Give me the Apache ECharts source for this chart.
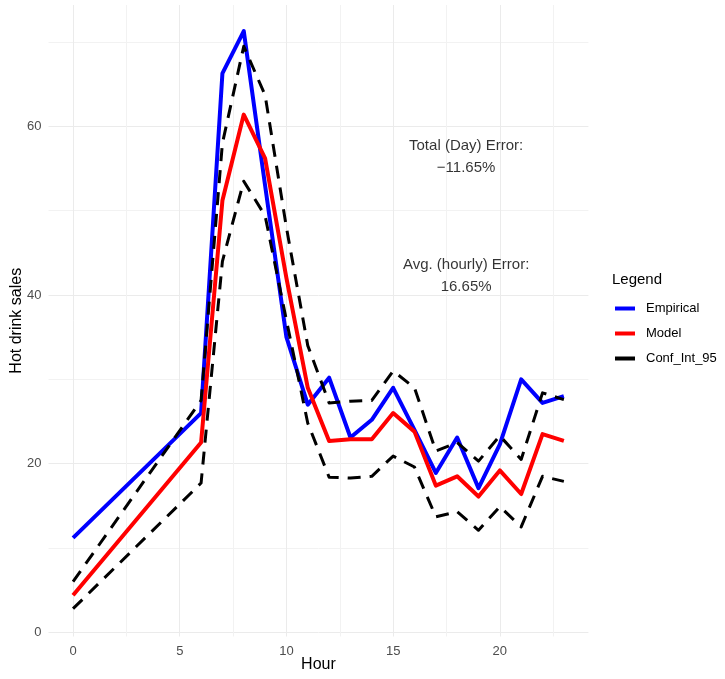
<!DOCTYPE html>
<html>
<head>
<meta charset="utf-8">
<script src="https://cdn.jsdelivr.net/npm/echarts@6/dist/echarts.min.js"></script>
<style>
  html, body { margin: 0; padding: 0; background: #fff; }
  #hotDrinks { width: 725px; height: 679px; }
</style>
</head>
<body>
<div id="hotDrinks"></div>
<script>
// hours 1-5 have no observations, the lines jump straight from 0 to 6
const hours = [0, 6, 7, 8, 9, 10, 11, 12, 13, 14, 15, 16, 17, 18, 19, 20, 21, 22, 23];
const empirical = [11.2, 26.0, 66.3, 71.3, 53.0, 35.0, 27.0, 30.2, 23.1, 25.2, 29.0, 24.0, 18.9, 23.1, 17.1, 22.3, 30.0, 27.2, 28.0];
const model = [4.4, 22.5, 51.2, 61.4, 56.2, 42.0, 29.0, 22.7, 22.9, 22.9, 26.0, 23.8, 17.4, 18.5, 16.1, 19.2, 16.4, 23.5, 22.7];
const confUpper = [6.0, 27.5, 58.0, 69.5, 63.7, 48.0, 34.0, 27.2, 27.4, 27.5, 31.0, 29.0, 21.5, 22.5, 20.3, 23.3, 20.5, 28.4, 27.6];
const confLower = [2.8, 17.7, 44.0, 53.5, 49.4, 37.0, 24.8, 18.4, 18.3, 18.5, 20.9, 19.6, 13.7, 14.3, 12.1, 14.9, 12.5, 18.5, 17.9];

const xMajor = [0, 5, 10, 15, 20];
const xMinor = [2.5, 7.5, 12.5, 17.5, 22.5];
const yMajor = [0, 20, 40, 60];
const yMinor = [10, 30, 50, 70];

const notes = [
  { hour: 18.42, value: 56.4, text: 'Total (Day) Error:\n\u221211.65%' },
  { hour: 18.42, value: 42.3, text: 'Avg. (hourly) Error:\n16.65%' }
];

const font = "'Liberation Sans', Arial, sans-serif";
const pairs = arr => hours.map((h, i) => [h, arr[i]]);

const xRange = { min: -1.15, max: 24.15 };
const yRange = { min: -0.5, max: 74.4 };

const majorGrid = { show: true, lineStyle: { color: '#ebebeb', width: 1 } };
const minorGrid = { show: true, lineStyle: { color: '#f2f2f2', width: 1 } };

function lineSeries(name, data, color, width, dashed) {
  return {
    name: name,
    type: 'line',
    data: pairs(data),
    symbol: 'none',
    color: color,
    itemStyle: { color: color },
    lineStyle: {
      color: color,
      width: width,
      type: dashed ? [13, 9] : 'solid',
      join: 'round'
    },
    z: 3
  };
}

const chart = echarts.init(document.getElementById('hotDrinks'));

chart.setOption({
  animation: false,
  textStyle: { fontFamily: font },
  title: {
    text: 'Legend',
    left: 612,
    top: 272,
    padding: 0,
    textStyle: { fontSize: 15, fontWeight: 'normal', color: '#000', fontFamily: font }
  },
  legend: {
    data: [
      { name: 'Empirical', icon: 'rect' },
      { name: 'Model', icon: 'rect' },
      { name: 'Conf_Int_95', icon: 'rect' }
    ],
    orient: 'vertical',
    left: 615,
    top: 302,
    padding: 0,
    itemWidth: 20,
    itemHeight: 4,
    itemGap: 12,
    itemStyle: { borderWidth: 0 },
    selectedMode: false,
    textStyle: { fontSize: 13, color: '#000', fontFamily: font, padding: [0, 0, 0, 6] }
  },
  grid: { left: 48.5, right: 136.6, top: 5, bottom: 42.5, outerBoundsMode: 'none' },
  xAxis: [
    {
      type: 'value',
      min: xRange.min,
      max: xRange.max,
      axisLine: { show: false },
      axisTick: { show: false, customValues: xMajor },
      axisLabel: { customValues: xMajor, color: '#4d4d4d', fontSize: 13, margin: 8 },
      splitLine: majorGrid,
      name: 'Hour',
      nameLocation: 'middle',
      nameGap: 20,
      nameMoveOverlap: false,
      nameTextStyle: { fontSize: 16, color: '#000' }
    },
    {
      type: 'value',
      gridIndex: 0,
      position: 'bottom',
      min: xRange.min,
      max: xRange.max,
      axisLine: { show: false },
      axisTick: { show: false, customValues: xMinor },
      axisLabel: { show: false },
      splitLine: minorGrid
    }
  ],
  yAxis: [
    {
      type: 'value',
      min: yRange.min,
      max: yRange.max,
      axisLine: { show: false },
      axisTick: { show: false, customValues: yMajor },
      axisLabel: { customValues: yMajor, color: '#4d4d4d', fontSize: 13, margin: 7 },
      splitLine: majorGrid,
      name: 'Hot drink sales',
      nameLocation: 'middle',
      nameGap: 24,
      nameMoveOverlap: false,
      nameTextStyle: { fontSize: 16, color: '#000' }
    },
    {
      type: 'value',
      gridIndex: 0,
      position: 'left',
      min: yRange.min,
      max: yRange.max,
      axisLine: { show: false },
      axisTick: { show: false, customValues: yMinor },
      axisLabel: { show: false },
      splitLine: minorGrid
    }
  ],
  series: [
    lineSeries('Empirical', empirical, '#0000ff', 4, false),
    lineSeries('Model', model, '#ff0000', 4, false),
    lineSeries('Conf_Int_95', confLower, '#000000', 3, true),
    lineSeries('Conf_Int_95', confUpper, '#000000', 3, true),
    {
      name: 'notes',
      type: 'scatter',
      data: notes.map(n => ({ value: [n.hour, n.value], text: n.text })),
      symbolSize: 1,
      itemStyle: { color: 'rgba(0,0,0,0)' },
      silent: true,
      z: 4,
      label: {
        show: true,
        position: 'inside',
        formatter: p => p.data.text,
        fontSize: 15,
        lineHeight: 22.5,
        align: 'center',
        color: '#000',
        fontFamily: font
      }
    }
  ]
});
</script>
</body>
</html>
